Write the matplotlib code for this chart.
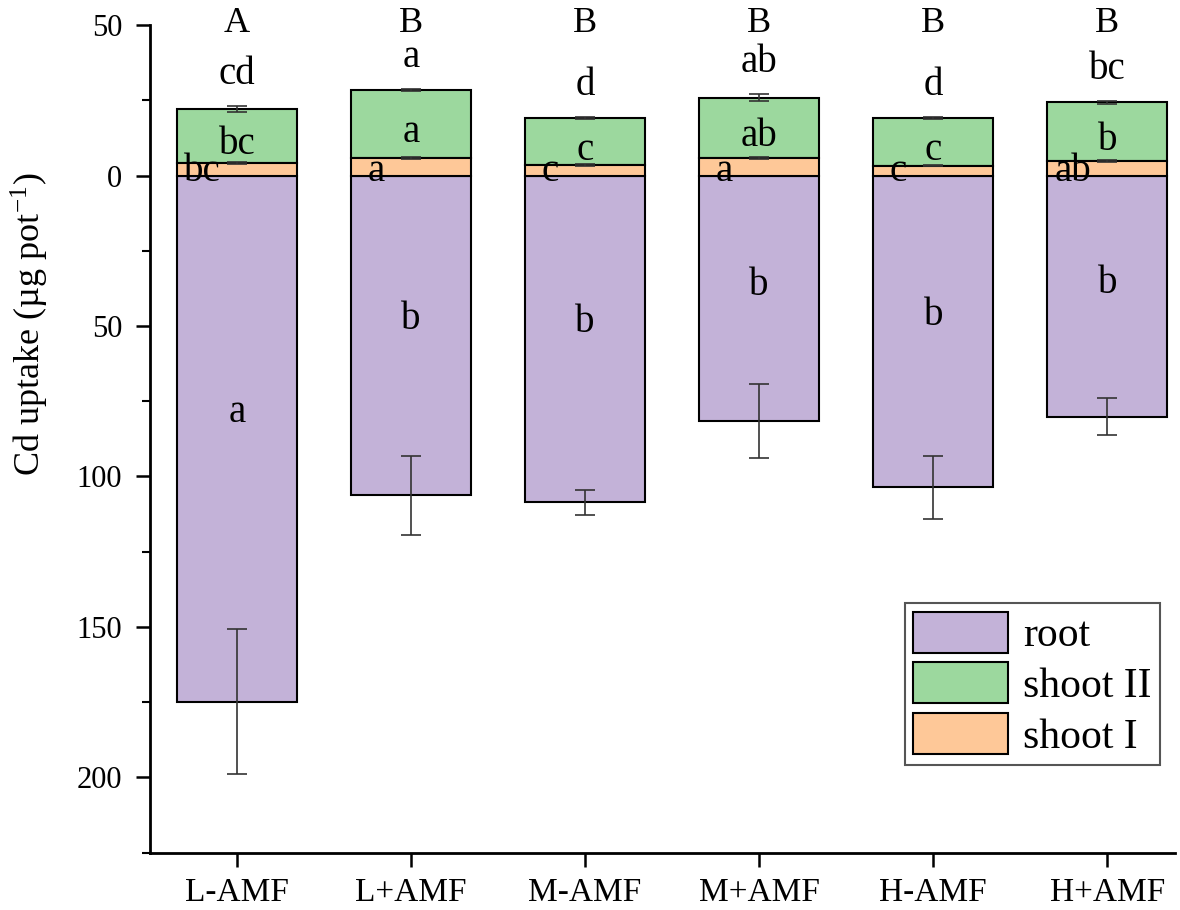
import numpy as np
import matplotlib
matplotlib.use('Agg')
import matplotlib.pyplot as plt
from matplotlib.ticker import MultipleLocator, FuncFormatter

plt.rcParams['font.family'] = ['Liberation Serif', 'DejaVu Serif']
plt.rcParams['mathtext.fontset'] = 'stix'

groups = ['L-AMF', 'L+AMF', 'M-AMF', 'M+AMF', 'H-AMF', 'H+AMF']
root = [174.8, 106.3, 108.6, 81.5, 103.6, 80.1]
root_err = [24.0, 13.0, 4.2, 12.2, 10.4, 6.1]
shoot1 = [4.2, 5.9, 3.5, 5.7, 3.3, 4.7]
shoot1_err = [0.3, 0.3, 0.2, 0.3, 0.2, 0.3]
shoot2 = [17.9, 22.5, 15.6, 20.2, 15.7, 19.6]
shoot2_err = [0.9, 0.3, 0.3, 1.3, 0.3, 0.5]

total_letters = ['A', 'B', 'B', 'B', 'B', 'B']
top_letters = ['cd', 'a', 'd', 'ab', 'd', 'bc']
shoot2_letters = ['bc', 'a', 'c', 'ab', 'c', 'b']
shoot1_letters = ['bc', 'a', 'c', 'a', 'c', 'ab']
root_letters = ['a', 'b', 'b', 'b', 'b', 'b']

c_root = '#c3b2d8'
c_sh2 = '#9cd89e'
c_sh1 = '#fec898'

x = np.arange(len(groups))
w = 0.69
root = np.array(root)
shoot1 = np.array(shoot1)
shoot2 = np.array(shoot2)

fig = plt.figure(figsize=(11.8, 9.1), dpi=100)
ax = fig.add_axes([0.127, 0.063, 0.869, 0.9095])

ax.bar(x, -root, w, color=c_root, edgecolor='black', linewidth=1.5, label='root', zorder=2)
ax.bar(x, shoot2, w, bottom=shoot1, color=c_sh2, edgecolor='black', linewidth=1.5,
       label='shoot II', zorder=2)
ax.bar(x, shoot1, w, color=c_sh1, edgecolor='black', linewidth=1.5, label='shoot I', zorder=2)

ekw = dict(fmt='none', ecolor='#333333', elinewidth=1.2, capsize=7, capthick=1.2, zorder=3)
ax.errorbar(x, -root, yerr=root_err, **ekw)
ax.errorbar(x, shoot1, yerr=shoot1_err, **ekw)
ax.errorbar(x, shoot1 + shoot2, yerr=shoot2_err, **ekw)

fs = 28
for i in range(len(groups)):
    top = shoot1[i] + shoot2[i] + shoot2_err[i]
    ax.text(x[i], 50.5, total_letters[i], ha='center', va='center', fontsize=26, clip_on=False)
    ax.text(x[i], top + 10.5, top_letters[i], ha='center', va='center', fontsize=fs)
    ax.text(x[i], shoot1[i] + shoot2[i] / 2 - 3, shoot2_letters[i], ha='center', va='center',
            fontsize=fs, zorder=4)
    ax.text(x[i] - 0.2, 1.2, shoot1_letters[i], ha='center', va='center', fontsize=fs, zorder=4)
    ax.text(x[i], -root[i] * 0.45, root_letters[i], ha='center', va='center', fontsize=fs, zorder=4)

ax.set_xlim(-0.5, 5.39)
ax.set_ylim(-225, 50)
ax.set_xticks(x)
ax.set_xticklabels(groups, fontsize=24)
ax.yaxis.set_major_locator(MultipleLocator(50))
ax.yaxis.set_minor_locator(MultipleLocator(25))
ax.yaxis.set_major_formatter(FuncFormatter(lambda v, p: f'{abs(v):.0f}'))
ax.tick_params(axis='y', labelsize=22, pad=10)
ax.tick_params(axis='x', pad=8)
ax.tick_params(which='major', direction='out', length=10, width=1.8)
ax.tick_params(which='minor', direction='out', length=6, width=1.5)
ax.tick_params(axis='x', which='minor', bottom=False)
for s in ['top', 'right']:
    ax.spines[s].set_visible(False)
for s in ['left', 'bottom']:
    ax.spines[s].set_linewidth(2)

ax.set_ylabel('Cd uptake (µg pot$^{\\mathregular{-1}}$)', fontsize=26)
ax.yaxis.set_label_coords(-0.097, 0.639)

h, l = ax.get_legend_handles_labels()
leg = ax.legend(h, l, loc='lower right', bbox_to_anchor=(0.985, 0.106), fontsize=30,
                handlelength=2.28, handleheight=1.13, handletextpad=0.35, labelspacing=0.17,
                borderpad=0.2, borderaxespad=0, fancybox=False, edgecolor='#555555',
                framealpha=1)
leg.get_frame().set_linewidth(1.5)

fig.savefig('out.png', dpi=100)
